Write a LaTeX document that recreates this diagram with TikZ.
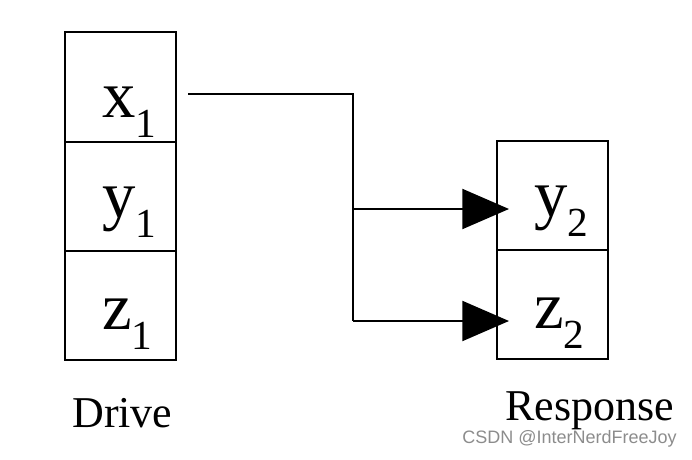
\documentclass[tikz,border=0pt]{standalone}
\usepackage{fontspec}
\setmainfont{Liberation Serif}
\newfontfamily\wmfont{Liberation Sans}
\usetikzlibrary{arrows.meta}

\newcommand{\varsub}[2]{\fontsize{50}{50}\selectfont #1\raisebox{-15pt}{\fontsize{31}{31}\selectfont #2}}

\tikzset{
  cell/.style={draw, line width=1.5pt, minimum width=83.25pt, minimum height=81.75pt, inner sep=0pt, outer sep=0pt},
  varname/.style={anchor=base west, inner sep=0pt},
  caption/.style={anchor=base west, inner sep=0pt, font=\fontsize{33}{33}\selectfont},
  link/.style={line width=1.5pt},
  bigtip/.style={-{Triangle[length=35pt,width=30pt]}}
}

\begin{document}
\begin{tikzpicture}[x=0.75pt,y=0.75pt,yscale=-1,xscale=1]
\useasboundingbox (0,0) rectangle (692,460);

% Drive cells
\node [cell] (x1) at (120.5,87) {};
\node [cell] (y1) at (120.5,196) {};
\node [cell] (z1) at (120.5,305) {};
% Response cells
\node [cell] (y2) at (552.5,195) {};
\node [cell] (z2) at (552.5,304) {};

% Text Node
\node [varname] (tx1) at (102,117) {\varsub{x}{1}};
\node [varname] (ty1) at (102,217) {\varsub{y}{1}};
\node [varname] (tz1) at (102,329) {\varsub{z}{1}};
\node [varname] (ty2) at (534,216) {\varsub{y}{2}};
\node [varname] (tz2) at (534,328) {\varsub{z}{2}};

% Captions
\node [caption] (drive) at (72,427) {Drive};
\node [caption] (resp) at (505,420) {Response};
\node [anchor=base west, inner sep=0pt, text=black!45, font=\wmfont\fontsize{13.5}{13.5}\selectfont] (mark) at (462,443) {CSDN @InterNerdFreeJoy};

% Connectors
\coordinate (src) at (188,94);
\coordinate (jy) at (353,209);
\coordinate (jz) at (353,321);
\coordinate (ty) at (509,209);
\coordinate (tz) at (509,321);
\draw [link] (src) -| (jz);
\draw [link, bigtip] (jz) -- (tz);
\draw [link, bigtip] (jy) -- (ty);

\end{tikzpicture}
\end{document}
